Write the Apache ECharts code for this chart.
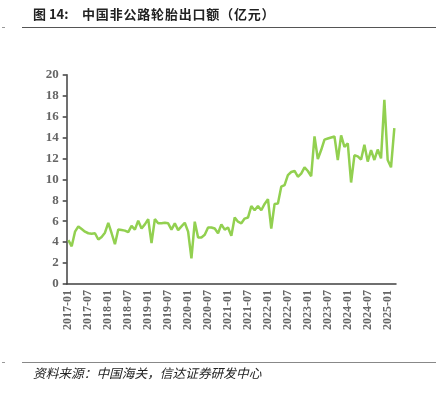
<!DOCTYPE html>
<html><head><meta charset="utf-8">
<script src="https://cdn.jsdelivr.net/npm/echarts@6/dist/echarts.min.js"></script>
<style>html,body{margin:0;padding:0;background:#fff}#c{width:441px;height:393px}</style>
</head><body><div id="c"></div>
<script>
var titleLabel = '图 14:';
var titleText = '中国非公路轮胎出口额（亿元）';
var sourceText = '资料来源：中国海关，信达证券研发中心';
var yTicks = [0,2,4,6,8,10,12,14,16,18,20];
var startYear = 2017, startMonth = 1;
var values = [
 4.2,3.6,5.0,5.5,5.25,5.0,4.85,4.8,4.85,4.25,4.5,4.9,
 5.85,4.85,3.8,5.2,5.15,5.1,4.95,5.55,5.2,6.05,5.3,5.7,
 6.2,3.9,6.2,5.8,5.8,5.85,5.8,5.2,5.8,5.15,5.5,5.85,
 5.0,2.45,5.95,4.45,4.45,4.7,5.4,5.4,5.3,4.85,5.7,5.2,
 5.4,4.6,6.35,5.95,5.8,6.25,6.35,7.45,7.05,7.45,7.05,7.65,
 8.1,5.3,7.65,7.7,9.3,9.45,10.4,10.7,10.8,10.25,10.55,11.15,
 10.8,10.3,14.1,11.95,12.8,13.8,13.9,14.0,14.1,11.85,14.2,13.1,
 13.45,9.7,12.3,12.2,11.9,13.3,11.7,12.8,11.85,12.85,12.0,17.6,
 11.85,11.15,14.9
];
var categories = values.map(function(_, i){
  var m = startMonth - 1 + i;
  var y = startYear + Math.floor(m / 12);
  var mm = (m % 12) + 1;
  return y + '-' + (mm < 10 ? '0' + mm : '' + mm);
});
function spaced(s, sep){ return s.split('').join(sep); }
var chart = echarts.init(document.getElementById('c'));
chart.setOption({
  animation: false,
  graphic: [
    {type: 'text', left: 33, top: 8, style: {text: titleLabel, fill: '#222', fontSize: 13, fontWeight: 'bold', fontFamily: '"Noto Sans CJK SC", sans-serif'}},
    {type: 'text', left: 82, top: 8, style: {text: spaced(titleText, '\u200A'), fill: '#222', fontSize: 13, fontWeight: 'bold', fontFamily: '"Noto Sans CJK SC", sans-serif'}},
    {type: 'line', shape: {x1: 22, y1: 27.5, x2: 436, y2: 27.5}, style: {stroke: '#555', lineWidth: 1}},
    {type: 'line', shape: {x1: 2, y1: 27.5, x2: 5, y2: 27.5}, style: {stroke: '#999', lineWidth: 1}},
    {type: 'line', shape: {x1: 22, y1: 362.5, x2: 436, y2: 362.5}, style: {stroke: '#888', lineWidth: 1}},
    {type: 'line', shape: {x1: 2, y1: 362.5, x2: 5, y2: 362.5}, style: {stroke: '#999', lineWidth: 1}},
    {type: 'text', left: 33, top: 367, style: {text: sourceText, fill: '#222', fontSize: 12.7, fontStyle: 'italic', fontFamily: '"Noto Sans CJK SC", serif'}}
  ],
  grid: {left: 66.7, right: 45, top: 74.7, bottom: 109},
  xAxis: {
    type: 'category', data: categories, boundaryGap: true,
    axisLine: {lineStyle: {color: '#404040', width: 1.5}},
    axisTick: {interval: 5, length: 4, lineStyle: {color: '#404040', width: 1.5}},
    axisLabel: {interval: 5, rotate: 90, margin: 6, fontFamily: '"Liberation Serif", serif', fontWeight: 'bold', fontSize: 12, color: '#666'}
  },
  yAxis: {
    type: 'value', min: yTicks[0], max: yTicks[yTicks.length-1], interval: 2,
    splitLine: {show: false},
    axisLine: {show: true, lineStyle: {color: '#404040', width: 1.5}},
    axisTick: {show: true, length: 4, lineStyle: {color: '#404040', width: 1.5}},
    axisLabel: {margin: 8, fontFamily: '"Liberation Serif", serif', fontWeight: 'bold', fontSize: 13, color: '#666'}
  },
  series: [{
    type: 'line', data: values, symbol: 'none',
    lineStyle: {color: '#92D050', width: 2.5}
  }]
});
</script></body></html>
